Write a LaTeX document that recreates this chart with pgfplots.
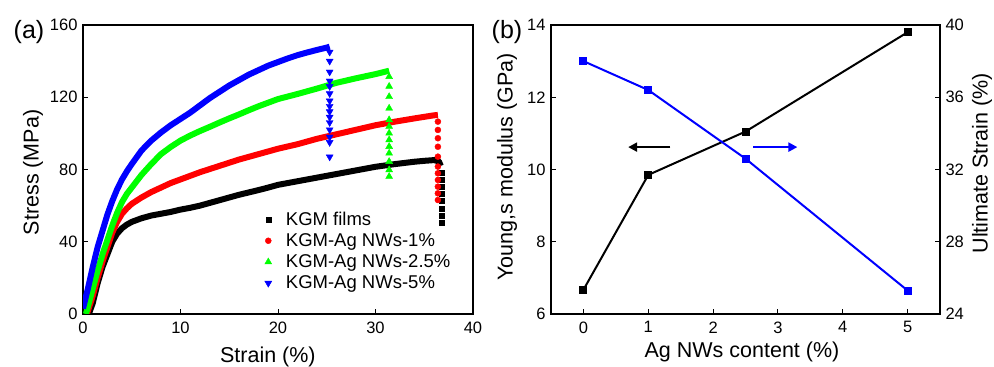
\documentclass[border=0pt]{standalone}
\usepackage{pgfplots}
\pgfplotsset{compat=1.18}
\usepackage{fontspec}
\setmainfont{Liberation Sans}
\usetikzlibrary{arrows.meta}
\definecolor{pblue}{RGB}{0,0,255}
\definecolor{pgreen}{RGB}{0,255,0}
\definecolor{pred}{RGB}{255,0,0}
\begin{document}
\begin{tikzpicture}[x=1pt,y=1pt]
\useasboundingbox (0,0) rectangle (994,367);
\pgfplotsset{
  base/.style={
    scale only axis, anchor=south west,
    /pgf/number format/assume math mode=true,
    tick align=inside, major tick length=5pt,
    tick style={black, line width=0.9pt},
    axis line style={line width=1.1pt},
    ticklabel style={font=\fontsize{16.5}{19}\selectfont},
    label style={font=\fontsize{21.5}{25}\selectfont},
    xticklabel style={yshift=-4pt},
  }
}
% ---------------- panel (a)
\begin{axis}[base, at={(83pt,53pt)}, width=390pt, height=289pt,
  xmin=0, xmax=40, ymin=0, ymax=160,
  xtick={0,10,20,30,40}, ytick={0,40,80,120,160},
  xtick pos=bottom, ytick pos=left,
  yticklabel style={xshift=-2pt},
  xlabel={Strain (\%)}, ylabel={Stress (MPa)},
  xlabel style={at={(axis description cs:0.474,-0.149)}, anchor=center},
  ylabel style={at={(axis description cs:-0.128,0.49)}, anchor=center},
  legend style={at={(axis description cs:0.445,0.368)}, anchor=north west, draw=none, fill=none,
    font=\fontsize{18.5}{21}\selectfont, row sep=2.8pt},
  legend cell align=left,
  legend image code/.code={\draw[#1] plot coordinates {(0.3cm,0cm)}; \path[draw=none,fill=none] (0cm,0cm) -- (0.85cm,0cm);},
]
\addplot[black, line width=6pt, line join=round, forget plot] coordinates {
(0.6,0) (1.0,6) (1.5,17) (2,26) (2.5,33) (3,40) (3.5,44.5) (4,47.5) (4.5,49.5) (5,51) (6,53) (7,54.5) (8,55.5) (9,56.5) (10,57.8) (11,58.8) (12,60) (13,61.5) (14,63) (15,64.5) (16,66) (17,67.3) (18,68.6) (19,70) (20,71.5) (22,73.5) (24,75.5) (26,77.5) (28,79.5) (30,81.5) (32,83) (34,84.3) (35,84.8) (36,85.2) (36.5,84.5) (36.7,82)};
\addplot[pred, line width=6pt, line join=round, forget plot] coordinates {
(0.4,0) (1,10) (1.5,20) (2,29) (2.5,37) (3,45) (3.5,51) (4,55.5) (4.5,58.5) (5,61) (6,64.5) (7,67.5) (8,70) (9,72.5) (10,74.5) (12,78.5) (14,82) (16,85.5) (18,88.5) (20,91.5) (22,94) (24,97) (26,99.5) (28,102) (30,104.5) (32,106.5) (34,108.3) (36,110) (36.4,110.2)};
\addplot[pgreen, line width=6pt, line join=round, forget plot] coordinates {
(0.3,0) (1,14) (1.5,24) (2,33) (2.5,41) (3,49) (3.5,56) (4,62) (4.5,66.5) (5,70) (6,77) (7,83) (8,88.5) (9,92.5) (10,96) (11,98.8) (12,101.3) (13,103.6) (14,106) (15,108.3) (16,110.5) (17,112.8) (18,115) (19,117) (20,119) (22,121.8) (24,124.8) (26,128) (28,130.5) (30,132.8) (31.4,134.7)};
\addplot[pblue, line width=6pt, line join=round, forget plot] coordinates {
(0,3) (0.5,14) (1,26) (1.5,37) (2,46) (2.5,55) (3,62.5) (3.5,69) (4,74.5) (4.5,79) (5,83) (6,90.5) (7,96) (8,100.5) (9,104.5) (10,108) (11,111.5) (12,115.5) (13,119.5) (14,123) (15,126.5) (16,129.5) (17,132.5) (18,135) (19,137.5) (20,139.5) (21,141.5) (22,143.3) (23,144.8) (24,146.2) (25,147.5) (25.3,148)};
\addplot[only marks, mark=square*, mark size=2.5pt, black] coordinates {
(36.8,78.5) (36.8,74.5) (36.8,70.5) (36.8,66.5) (36.8,62.5) (36.8,58.5) (36.8,54.5) (36.8,50.5)};
\addlegendentry{KGM films}
\addplot[only marks, mark=*, mark size=3pt, pred] coordinates {
(36.4,106.5) (36.4,101.9) (36.4,97.3) (36.4,92.6) (36.4,87.1) (36.4,81.6) (36.4,77.9) (36.4,74.2) (36.4,70.5) (36.4,66.8) (36.4,63.1)};
\addlegendentry{KGM-Ag NWs-1\%}
\addplot[only marks, mark=triangle*, mark size=4pt, pgreen] coordinates {
(31.4,131.4) (31.4,126) (31.4,120.3) (31.4,113.9) (31.4,107.5) (31.4,103.8) (31.4,100.1) (31.4,96.4) (31.4,92.7) (31.4,89) (31.4,84.4) (31.4,79.8) (31.4,76.1)};
\addlegendentry{KGM-Ag NWs-2.5\%}
\addplot[only marks, mark=triangle*, mark options={rotate=180}, mark size=4pt, pblue] coordinates {
(25.3,145) (25.3,140) (25.3,134) (25.3,129) (25.3,126) (25.3,122) (25.3,118) (25.3,115) (25.3,112) (25.3,109) (25.3,106) (25.3,102) (25.3,98) (25.3,95) (25.3,87)};
\addlegendentry{KGM-Ag NWs-5\%}
\end{axis}
% ---------------- panel (b) left axis
\begin{axis}[base, at={(551pt,53pt)}, width=389pt, height=289pt,
  xmin=-0.5, xmax=5.5, ymin=6, ymax=14,
  xtick={0,1,2,3,4,5}, ytick={6,8,10,12,14},
  xtick pos=bottom, ytick pos=left,
  yticklabel style={xshift=-2pt},
  xlabel={Ag NWs content (\%)}, ylabel={Young,s modulus (GPa)},
  xlabel style={at={(axis description cs:0.491,-0.131)}, anchor=center},
  ylabel style={at={(axis description cs:-0.113,0.509)}, anchor=center},
]
\addplot[black, line width=2pt, mark=square*, mark size=3pt] coordinates {
(0,6.67) (1,9.85) (2.5,11.05) (5,13.8)};
\draw[black, line width=2.5pt, -{Triangle[length=9pt,width=9pt]}] (axis cs:1.34,10.62) -- (axis cs:0.69,10.62);
\draw[pblue, line width=2.5pt, -{Triangle[length=9pt,width=9pt]}] (axis cs:2.62,10.62) -- (axis cs:3.30,10.62);
\end{axis}
% ---------------- panel (b) right axis
\begin{axis}[base, at={(551pt,53pt)}, width=389pt, height=289pt,
  xmin=-0.5, xmax=5.5, ymin=24, ymax=40,
  hide x axis, axis y line*=right,
  ytick={24,28,32,36,40}, yticklabel style={xshift=2pt},
  ylabel={Ultimate Strain (\%)},
  ylabel style={at={(axis description cs:1.108,0.522)}, anchor=center},
]
\addplot[pblue, line width=2pt, mark=square*, mark size=3pt] coordinates {
(0,38.0) (1,36.4) (2.5,32.6) (5,25.3)};
\end{axis}
\node[font=\fontsize{25}{30}\selectfont] at (29,335) {(a)};
\node[font=\fontsize{25}{30}\selectfont] at (507,335) {(b)};
\end{tikzpicture}
\end{document}
